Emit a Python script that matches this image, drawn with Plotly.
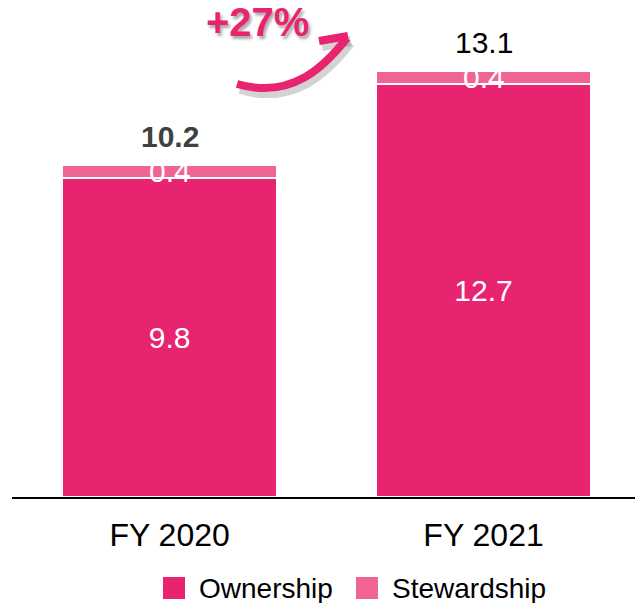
from plotly.graph_objects import Figure as plotly_Figure, Bar as plotly_Bar

years = ["FY 2020", "FY 2021"]
ownership = [9.8, 12.7]
stewardship = [0.4, 0.4]
totals = [10.2, 13.1]
series_names = ["Ownership", "Stewardship"]
growth_label = "+27%"

own_color = "#E8236F"
stew_color = "#EF6495"
font_family = "Arial, Liberation Sans, sans-serif"

fig = plotly_Figure()
fig.add_trace(
    plotly_Bar(
        x=years,
        y=ownership,
        name=series_names[0],
        marker=dict(color=own_color, line=dict(color="white", width=2)),
        width=0.685,
        texttemplate="%{y}",
        textposition="inside",
        insidetextanchor="middle",
        textfont=dict(color="white", size=30, family=font_family),
        showlegend=False,
    )
)
fig.add_trace(
    plotly_Bar(
        x=years,
        y=stewardship,
        name=series_names[1],
        marker=dict(color=stew_color, line=dict(color="white", width=2)),
        width=0.685,
        showlegend=False,
    )
)

# stewardship value labels (overflow the thin segment)
for yr, own, stew in zip(years, ownership, stewardship):
    fig.add_annotation(
        x=yr, y=own + stew / 2, text=str(stew), showarrow=False,
        font=dict(color="white", size=30, family=font_family), yanchor="middle",
    )

# totals on top
total_styles = [("#404040", "bold"), ("black", "normal")]
for yr, tot, (col, wt) in zip(years, totals, total_styles):
    fig.add_annotation(
        x=yr, y=tot, text=f"{tot}", showarrow=False, yanchor="bottom", yshift=10,
        font=dict(color=col, size=30, family=font_family, weight=wt),
    )


# pixel position -> paper coords (plot area is x 12..635, y 0..497)
def px(x, y):
    return (x - 12) / 623, (497 - y) / 497


def path_from(segments):
    parts = []
    for cmd, pts in segments:
        coords = " ".join(f"{px(a, b)[0]:.4f},{px(a, b)[1]:.4f}" for a, b in pts)
        parts.append(f"{cmd} {coords}")
    return " ".join(parts)


# growth arrow with soft shadow
curve = [("M", [(237, 84)]), ("C", [(292, 100), (325, 66), (347, 38)])]
head = [("M", [(319, 41)]), ("L", [(348, 36), (349, 66)])]
for dx, dy, col, w in [(3, 5, "rgba(110,110,110,0.3)", 10), (0, 0, own_color, 8)]:
    for seg in (curve, head):
        shifted = [(c, [(a + dx, b + dy) for a, b in pts]) for c, pts in seg]
        fig.add_shape(
            type="path", xref="paper", yref="paper", path=path_from(shifted),
            line=dict(color=col, width=w), layer="above",
        )

gx, gy = px(257, 22)
fig.add_annotation(
    xref="paper", yref="paper", x=gx, y=gy, text=growth_label, showarrow=False,
    xanchor="center", yanchor="middle",
    font=dict(color=own_color, size=40, family=font_family, weight="bold",
              shadow="2px 3px 3px rgba(0,0,0,0.35)"),
)

# legend drawn by hand for large square swatches
legend_items = [(series_names[0], own_color, 163), (series_names[1], stew_color, 356)]
for name, color, x0 in legend_items:
    ax0, ay0 = px(x0, 599)
    ax1, ay1 = px(x0 + 22, 577)
    fig.add_shape(
        type="rect", xref="paper", yref="paper", x0=ax0, y0=ay0, x1=ax1, y1=ay1,
        fillcolor=color, line=dict(width=0),
    )
    tx, ty = px(x0 + 34, 588)
    fig.add_annotation(
        xref="paper", yref="paper", x=tx, y=ty, text=name, showarrow=False,
        xanchor="left", yanchor="middle",
        font=dict(size=28, color="black", family=font_family),
    )

fig.update_xaxes(
    range=[-0.502, 1.4825],
    showline=True, linecolor="black", linewidth=2,
    showgrid=False, ticks="",
    tickfont=dict(size=32, color="black", family=font_family),
    ticklabelstandoff=9,
)
fig.update_yaxes(range=[0, 15.27], visible=False, showgrid=False)
fig.update_layout(
    barmode="stack",
    width=635, height=603,
    margin=dict(l=12, r=0, t=0, b=106, autoexpand=False),
    plot_bgcolor="white", paper_bgcolor="white",
    font=dict(family=font_family),
    showlegend=False,
)

fig.write_html(
    "out.html",
    config={"displayModeBar": False},
    post_script="document.body.style.margin='0px';",
)
